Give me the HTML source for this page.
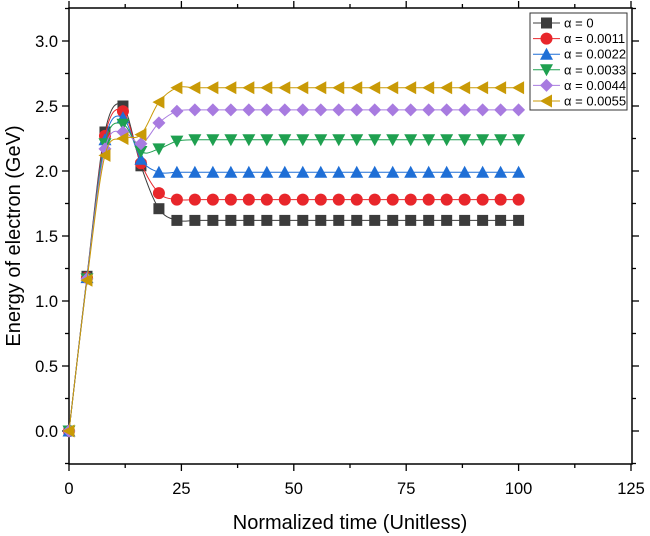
<!DOCTYPE html>
<html><head><meta charset="utf-8"><style>
html,body{margin:0;padding:0;background:#fff;}
svg{display:block;font-family:"Liberation Sans",Arial,sans-serif;}
</style></head><body>
<svg id="s" width="650" height="536" viewBox="0 0 650 536"></svg>
<script>
const s=document.getElementById('s');
const X=t=>69+t*4.496, Y=e=>431-e*130;
let h='';
const L=69,R=632,T=8,B=464;
for(let i=0;i<=10;i++){const t=i*12.5,x=X(t),maj=i%2==0,l=maj?7:4;
 h+=`<line x1="${x}" y1="${B}" x2="${x}" y2="${B+l}" stroke="#000" stroke-width="1.3"/>`;
 h+=`<line x1="${x}" y1="${T}" x2="${x}" y2="${T-l}" stroke="#000" stroke-width="1.3"/>`;
 if(maj)h+=`<text x="${x}" y="${B+30}" font-size="16.5" text-anchor="middle">${t}</text>`;}
for(let i=-1;i<=13;i++){const e=i*0.25,y=Y(e);if(y>B||y<T)continue;const maj=i%2==0,l=maj?7:4;
 h+=`<line x1="${L}" y1="${y}" x2="${L-l}" y2="${y}" stroke="#000" stroke-width="1.3"/>`;
 h+=`<line x1="${R}" y1="${y}" x2="${R+l}" y2="${y}" stroke="#000" stroke-width="1.3"/>`;
 if(maj)h+=`<text x="${L-11}" y="${y+6}" font-size="16.5" text-anchor="end">${e.toFixed(1)}</text>`;}
h+=`<rect x="${L}" y="${T}" width="${R-L}" height="${B-T}" fill="none" stroke="#000" stroke-width="1.5"/>`;
h+=`<text x="350" y="529" font-size="20" text-anchor="middle">Normalized time (Unitless)</text>`;
h+=`<text transform="translate(20,236) rotate(-90)" font-size="20" text-anchor="middle">Energy of electron (GeV)</text>`;
const S=[
 ['#3c3c3c','sq','α = 0',[0,1.19,2.30,2.50,2.04,1.71,1.62]],
 ['#e8262b','ci','α = 0.0011',[0,1.18,2.27,2.46,2.06,1.83,1.78]],
 ['#1f6fd6','up','α = 0.0022',[0,1.18,2.24,2.41,2.09,1.99,1.99]],
 ['#1fa050','dn','α = 0.0033',[0,1.17,2.21,2.36,2.15,2.17,2.23,2.24]],
 ['#a87be0','di','α = 0.0044',[0,1.17,2.17,2.30,2.21,2.37,2.46,2.47]],
 ['#c99a06','lf','α = 0.0055',[0,1.16,2.12,2.25,2.28,2.53,2.64,2.64]]];
function mk(t,x,y,c){const r=5.5;
 if(t=='sq')return `<rect x="${x-r}" y="${y-r}" width="${2*r}" height="${2*r}" fill="${c}"/>`;
 if(t=='ci')return `<circle cx="${x}" cy="${y}" r="${r+0.5}" fill="${c}"/>`;
 if(t=='up')return `<polygon points="${x},${y-r-1} ${x+r+1},${y+r} ${x-r-1},${y+r}" fill="${c}"/>`;
 if(t=='dn')return `<polygon points="${x},${y+r+1} ${x+r+1},${y-r} ${x-r-1},${y-r}" fill="${c}"/>`;
 if(t=='di')return `<polygon points="${x},${y-r-1} ${x+r+1},${y} ${x},${y+r+1} ${x-r-1},${y}" fill="${c}"/>`;
 return `<polygon points="${x-r-1},${y} ${x+r},${y-r-1} ${x+r},${y+r+1}" fill="${c}"/>`;}
S.forEach(([c,t,n,v])=>{const pts=[];for(let i=0;i<=25;i++){const e=i<v.length?v[i]:v[v.length-1];pts.push([X(i*4),Y(e)]);}
 let d=`M${pts[0][0]},${pts[0][1]}`;
 for(let i=0;i<pts.length-1;i++){const p0=pts[Math.max(0,i-1)],p1=pts[i],p2=pts[i+1],p3=pts[Math.min(pts.length-1,i+2)];
  d+=` C${p1[0]+(p2[0]-p0[0])/6},${p1[1]+(p2[1]-p0[1])/6} ${p2[0]-(p3[0]-p1[0])/6},${p2[1]-(p3[1]-p1[1])/6} ${p2[0]},${p2[1]}`;}
 h+=`<path d="${d}" fill="none" stroke="${c}" stroke-width="1"/>`;
 pts.forEach(p=>h+=mk(t,p[0],p[1],c));});
h+=`<rect x="530" y="13" width="97" height="97" fill="#fff" stroke="#333" stroke-width="1"/>`;
S.forEach(([c,t,n],i)=>{const y=23+i*15.6;
 h+=`<line x1="533" y1="${y}" x2="560" y2="${y}" stroke="${c}" stroke-width="1"/>`+mk(t,546.5,y,c);
 h+=`<text x="564" y="${y+4.5}" font-size="13">${n}</text>`;});
s.innerHTML=h;
</script>
</body></html>
